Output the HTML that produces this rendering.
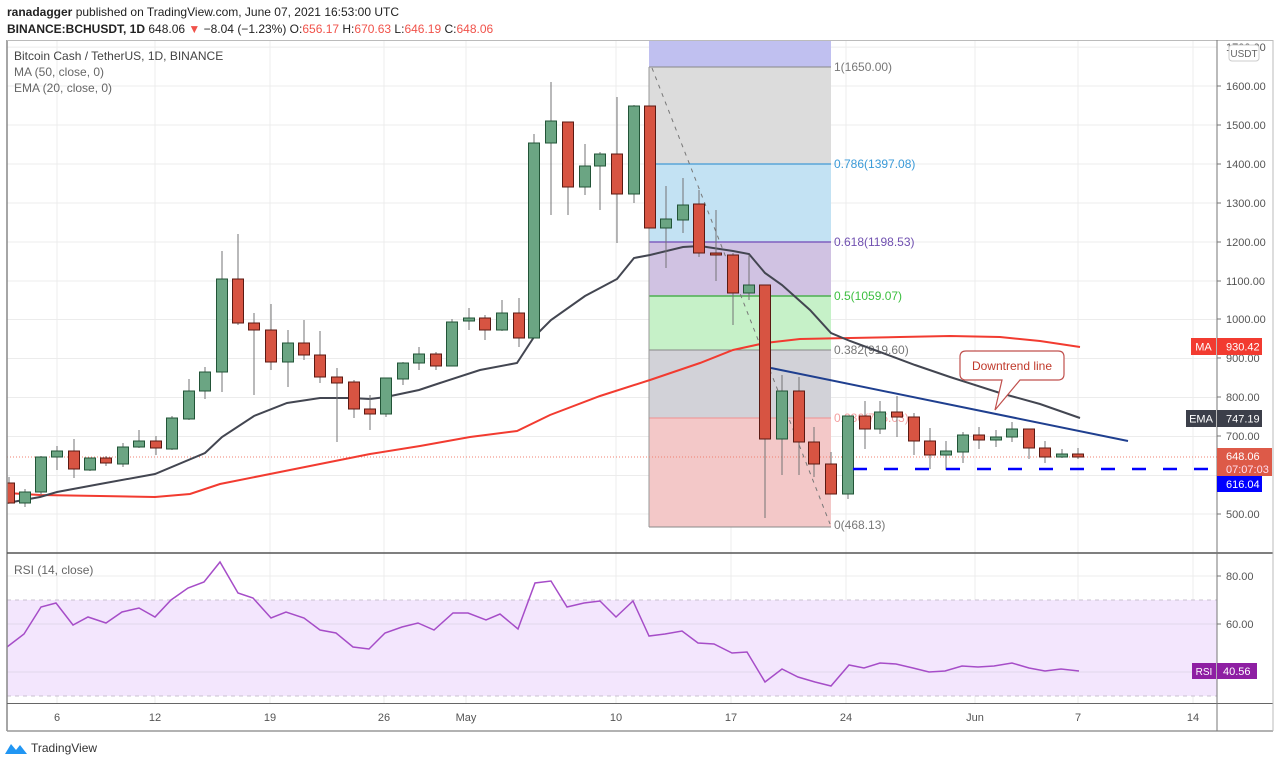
<!DOCTYPE html>
<html><head><meta charset="utf-8"><style>
html,body{margin:0;padding:0;background:#fff;}
body{width:1280px;height:765px;overflow:hidden;font-family:"Liberation Sans",sans-serif;}
</style></head><body>
<svg width="1280" height="765" xmlns="http://www.w3.org/2000/svg" font-family="Liberation Sans, sans-serif">
<rect width="1280" height="765" fill="#fff"/>
<text x="7" y="16" font-size="12" fill="#222"><tspan font-weight="bold">ranadagger</tspan> published on TradingView.com, June 07, 2021 16:53:00 UTC</text>
<text x="7" y="33" font-size="12" fill="#222"><tspan font-weight="bold">BINANCE:BCHUSDT, 1D</tspan> 648.06 <tspan fill="#f0524a">▼</tspan> −8.04 (−1.23%) O:<tspan fill="#f0524a">656.17</tspan> H:<tspan fill="#f0524a">670.63</tspan> L:<tspan fill="#f0524a">646.19</tspan> C:<tspan fill="#f0524a">648.06</tspan></text>
<g stroke="#ececec" stroke-width="1">
<line x1="7" x2="1217" y1="47.1" y2="47.1"/><line x1="7" x2="1217" y1="86" y2="86"/><line x1="7" x2="1217" y1="125" y2="125"/><line x1="7" x2="1217" y1="164" y2="164"/><line x1="7" x2="1217" y1="203" y2="203"/><line x1="7" x2="1217" y1="242" y2="242"/><line x1="7" x2="1217" y1="281" y2="281"/><line x1="7" x2="1217" y1="319.5" y2="319.5"/><line x1="7" x2="1217" y1="358.5" y2="358.5"/><line x1="7" x2="1217" y1="397.5" y2="397.5"/><line x1="7" x2="1217" y1="436.5" y2="436.5"/><line x1="7" x2="1217" y1="475.5" y2="475.5"/><line x1="7" x2="1217" y1="514" y2="514"/>
<line x1="57" x2="57" y1="40" y2="703"/><line x1="155" x2="155" y1="40" y2="703"/><line x1="270" x2="270" y1="40" y2="703"/><line x1="384" x2="384" y1="40" y2="703"/><line x1="466" x2="466" y1="40" y2="703"/><line x1="616" x2="616" y1="40" y2="703"/><line x1="731" x2="731" y1="40" y2="703"/><line x1="846" x2="846" y1="40" y2="703"/><line x1="975" x2="975" y1="40" y2="703"/><line x1="1078" x2="1078" y1="40" y2="703"/><line x1="1193" x2="1193" y1="40" y2="703"/>
<line x1="7" x2="1217" y1="576" y2="576"/><line x1="7" x2="1217" y1="624" y2="624"/><line x1="7" x2="1217" y1="672" y2="672"/>
</g>
<text x="14" y="60" font-size="12" fill="#444">Bitcoin Cash / TetherUS, 1D, BINANCE</text>
<text x="14" y="76" font-size="12" fill="#666">MA (50, close, 0)</text>
<text x="14" y="92" font-size="12" fill="#666">EMA (20, close, 0)</text>
<!-- fib -->
<rect x="649" y="40" width="182" height="27" fill="#c0c0f0"/>
<rect x="649" y="67" width="182" height="97" fill="#dcdcdc"/>
<rect x="649" y="164" width="182" height="78" fill="#c3e2f3"/>
<rect x="649" y="242" width="182" height="54" fill="#d0c2e2"/>
<rect x="649" y="296" width="182" height="54" fill="#c6f1c8"/>
<rect x="649" y="350" width="182" height="68" fill="#d2d2d8"/>
<rect x="649" y="418" width="182" height="109" fill="#f3c8c8"/>
<line x1="649" x2="831" y1="67" y2="67" stroke="#888"/>
<line x1="649" x2="831" y1="164" y2="164" stroke="#5aa5d8" stroke-width="1.5"/>
<line x1="649" x2="831" y1="242" y2="242" stroke="#8060c0" stroke-width="1.5"/>
<line x1="649" x2="831" y1="296" y2="296" stroke="#4caf50" stroke-width="1.5"/>
<line x1="649" x2="831" y1="350" y2="350" stroke="#888"/>
<line x1="649" x2="831" y1="418" y2="418" stroke="#f09090"/>
<line x1="649" x2="831" y1="527" y2="527" stroke="#888"/>
<line x1="649" x2="649" y1="67" y2="527" stroke="#999"/>
<line x1="652" y1="68" x2="830" y2="524" stroke="#777" stroke-dasharray="4,5"/>
<g font-size="12">
<text x="834" y="71" fill="#777">1(1650.00)</text>
<text x="834" y="168" fill="#3a9ad8">0.786(1397.08)</text>
<text x="834" y="246" fill="#7050b0">0.618(1198.53)</text>
<text x="834" y="300" fill="#3cbf40">0.5(1059.07)</text>
<text x="834" y="354" fill="#777">0.382(919.60)</text>
<text x="834" y="422" fill="#f4a0a0">0.236(745.03)</text>
<text x="834" y="529" fill="#777">0(468.13)</text>
</g>
<!-- price dotted line -->
<line x1="7" x2="1217" y1="457" y2="457" stroke="#f08070" stroke-dasharray="1,2"/>
<!-- MA -->
<polyline fill="none" stroke="#f23b30" stroke-width="2" points="7,493 40,495 100,496 155,497 190,494 220,484 270,474 320,464 370,454 420,446 470,437 517,431 550,415 600,396 650,380 700,363 733,350 765,343 800,339 850,338 900,337 950,336 1000,337 1040,341 1080,347"/>
<!-- EMA -->
<polyline fill="none" stroke="#434651" stroke-width="2" points="7,503 40,497 57,492 100,484 155,474 205,453 222,437 254,416 287,403 320,398 350,398 370,399 386,397 419,390 440,383 480,370 517,363 534,337 551,320 585,296 617,279 634,258 650,255 683,247 700,246 733,251 749,254 765,273 782,285 810,310 831,333 850,341 880,352 915,365 950,377 1000,393 1040,404 1080,418"/>
<!-- candles -->
<g id="c" stroke-width="1"></g>
<g stroke="#737375">
<line x1="9" x2="9" y1="477" y2="503"/><line x1="25" x2="25" y1="489" y2="507"/><line x1="41" x2="41" y1="456" y2="495"/><line x1="57" x2="57" y1="446" y2="470"/><line x1="74" x2="74" y1="439" y2="478"/><line x1="90" x2="90" y1="458" y2="471"/><line x1="106" x2="106" y1="456" y2="466"/><line x1="123" x2="123" y1="443" y2="467"/><line x1="139" x2="139" y1="430" y2="448"/><line x1="156" x2="156" y1="436" y2="455"/><line x1="172" x2="172" y1="416" y2="450"/><line x1="189" x2="189" y1="379" y2="420"/><line x1="205" x2="205" y1="367" y2="399"/><line x1="222" x2="222" y1="251" y2="392"/><line x1="238" x2="238" y1="234" y2="325"/><line x1="254" x2="254" y1="313" y2="395"/><line x1="271" x2="271" y1="304" y2="370"/><line x1="288" x2="288" y1="330" y2="387"/><line x1="304" x2="304" y1="320" y2="360"/><line x1="320" x2="320" y1="331" y2="383"/><line x1="337" x2="337" y1="368" y2="442"/><line x1="354" x2="354" y1="380" y2="418"/><line x1="370" x2="370" y1="395" y2="430"/><line x1="386" x2="386" y1="378" y2="417"/><line x1="403" x2="403" y1="362" y2="385"/><line x1="419" x2="419" y1="347" y2="370"/><line x1="436" x2="436" y1="352" y2="370"/><line x1="452" x2="452" y1="319" y2="366"/><line x1="469" x2="469" y1="308" y2="330"/><line x1="485" x2="485" y1="315" y2="340"/><line x1="502" x2="502" y1="300" y2="331"/><line x1="519" x2="519" y1="298" y2="347"/><line x1="534" x2="534" y1="134" y2="338"/><line x1="551" x2="551" y1="82" y2="215"/><line x1="568" x2="568" y1="122" y2="215"/><line x1="585" x2="585" y1="144" y2="195"/><line x1="600" x2="600" y1="152" y2="210"/><line x1="617" x2="617" y1="97" y2="243"/><line x1="634" x2="634" y1="105" y2="203"/><line x1="650" x2="650" y1="106" y2="228"/><line x1="666" x2="666" y1="186" y2="268"/><line x1="683" x2="683" y1="178" y2="233"/><line x1="699" x2="699" y1="190" y2="257"/><line x1="716" x2="716" y1="210" y2="281"/><line x1="733" x2="733" y1="253" y2="325"/><line x1="749" x2="749" y1="255" y2="300"/><line x1="765" x2="765" y1="285" y2="518"/><line x1="782" x2="782" y1="375" y2="475"/><line x1="799" x2="799" y1="377" y2="475"/><line x1="814" x2="814" y1="427" y2="477"/><line x1="831" x2="831" y1="452" y2="494"/><line x1="848" x2="848" y1="416" y2="499"/><line x1="865" x2="865" y1="401" y2="449"/><line x1="880" x2="880" y1="401" y2="434"/><line x1="897" x2="897" y1="396" y2="437"/><line x1="914" x2="914" y1="413" y2="455"/><line x1="930" x2="930" y1="428" y2="469"/><line x1="946" x2="946" y1="441" y2="470"/><line x1="963" x2="963" y1="432" y2="463"/><line x1="979" x2="979" y1="427" y2="449"/><line x1="996" x2="996" y1="430" y2="447"/><line x1="1012" x2="1012" y1="422" y2="442"/><line x1="1029" x2="1029" y1="429" y2="459"/><line x1="1045" x2="1045" y1="441" y2="463"/><line x1="1062" x2="1062" y1="449" y2="458"/><line x1="1078" x2="1078" y1="448" y2="459"/>
</g>
<g fill="#6ba583" stroke="#225437">
<rect x="19.5" y="492" width="11" height="11"/><rect x="35.5" y="457" width="11" height="35"/><rect x="51.5" y="451" width="11" height="6"/><rect x="84.5" y="458" width="11" height="12"/><rect x="117.5" y="447" width="11" height="17"/><rect x="133.5" y="441" width="11" height="6"/><rect x="166.5" y="418" width="11" height="31"/><rect x="183.5" y="391" width="11" height="28"/><rect x="199.5" y="372" width="11" height="19"/><rect x="216.5" y="279" width="11" height="93"/><rect x="282.5" y="343" width="11" height="19"/><rect x="380.5" y="378" width="11" height="36"/><rect x="397.5" y="363" width="11" height="16"/><rect x="413.5" y="354" width="11" height="9"/><rect x="446.5" y="322" width="11" height="44"/><rect x="463.5" y="318" width="11" height="3"/><rect x="496.5" y="313" width="11" height="17"/><rect x="528.5" y="143" width="11" height="195"/><rect x="545.5" y="121" width="11" height="22"/><rect x="579.5" y="166" width="11" height="21"/><rect x="594.5" y="154" width="11" height="12"/><rect x="628.5" y="106" width="11" height="88"/><rect x="660.5" y="219" width="11" height="9"/><rect x="677.5" y="205" width="11" height="15"/><rect x="743.5" y="285" width="11" height="8"/><rect x="776.5" y="391" width="11" height="48"/><rect x="842.5" y="416" width="11" height="78"/><rect x="874.5" y="412" width="11" height="17"/><rect x="940.5" y="451" width="11" height="4"/><rect x="957.5" y="435" width="11" height="17"/><rect x="990.5" y="437" width="11" height="3"/><rect x="1006.5" y="429" width="11" height="8"/><rect x="1056.5" y="454" width="11" height="3"/>
</g>
<g fill="#d75442" stroke="#5b1a13">
<rect x="7" y="483" width="7.5" height="20"/><rect x="68.5" y="451" width="11" height="18"/><rect x="100.5" y="458" width="11" height="5"/><rect x="150.5" y="441" width="11" height="7"/><rect x="232.5" y="279" width="11" height="44"/><rect x="248.5" y="323" width="11" height="7"/><rect x="265.5" y="330" width="11" height="32"/><rect x="298.5" y="343" width="11" height="12"/><rect x="314.5" y="355" width="11" height="22"/><rect x="331.5" y="377" width="11" height="6"/><rect x="348.5" y="382" width="11" height="27"/><rect x="364.5" y="409" width="11" height="5"/><rect x="430.5" y="354" width="11" height="12"/><rect x="479.5" y="318" width="11" height="12"/><rect x="513.5" y="313" width="11" height="25"/><rect x="562.5" y="122" width="11" height="65"/><rect x="611.5" y="154" width="11" height="40"/><rect x="644.5" y="106" width="11" height="122"/><rect x="693.5" y="204" width="11" height="49"/><rect x="710.5" y="253" width="11" height="2"/><rect x="727.5" y="255" width="11" height="38"/><rect x="759.5" y="285" width="11" height="154"/><rect x="793.5" y="391" width="11" height="51"/><rect x="808.5" y="442" width="11" height="22"/><rect x="825.5" y="464" width="11" height="30"/><rect x="859.5" y="416" width="11" height="13"/><rect x="891.5" y="412" width="11" height="5"/><rect x="908.5" y="417" width="11" height="24"/><rect x="924.5" y="441" width="11" height="14"/><rect x="973.5" y="435" width="11" height="5"/><rect x="1023.5" y="429" width="11" height="19"/><rect x="1039.5" y="448" width="11" height="9"/><rect x="1072.5" y="454" width="11" height="3"/>
</g>
<!-- downtrend -->
<line x1="771" y1="368" x2="1128" y2="441" stroke="#1f3f8f" stroke-width="2"/>
<line x1="853" y1="469" x2="1217" y2="469" stroke="#0000ff" stroke-width="2.5" stroke-dasharray="14,17"/>
<!-- callout -->
<path d="M966,351 H1058 Q1064,351 1064,357 V374 Q1064,380 1058,380 H1020 L995,410 L1002,380 H966 Q960,380 960,374 V357 Q960,351 966,351 Z" fill="#fff" stroke="#c0504d" stroke-width="1.2"/>
<text x="1012" y="370" font-size="12" fill="#c0392b" text-anchor="middle">Downtrend line</text>
<!-- RSI -->
<rect x="7" y="600" width="1210" height="96" fill="#f3e6fd"/>
<line x1="7" x2="1217" y1="600" y2="600" stroke="#c8c0d0" stroke-dasharray="4,4"/>
<line x1="7" x2="1217" y1="696" y2="696" stroke="#c8c0d0" stroke-dasharray="4,4"/>
<line x1="7" x2="1217" y1="624" y2="624" stroke="#e2d8ea"/>
<line x1="7" x2="1217" y1="672" y2="672" stroke="#e2d8ea"/>
<polyline fill="none" stroke="#a64dc8" stroke-width="1.5" points="7,647 24,634 41,607 56,603 73,625 88,617 106,623 122,612 139,608 155,617 171,600 188,588 204,582 220,562 238,593 253,598 271,618 286,612 304,618 320,630 336,633 353,647 369,649 385,633 402,627 418,623 434,630 453,613 468,613 486,620 500,614 518,629 535,583 551,581 567,607 584,603 600,601 616,617 633,601 649,636 665,634 682,631 698,643 714,644 732,653 747,652 765,682 782,669 798,677 815,682 831,686 849,665 864,668 880,663 896,664 913,668 929,672 945,671 962,666 978,667 994,666 1012,663 1029,668 1045,671 1061,669 1079,671"/>
<text x="14" y="574" font-size="12" fill="#666">RSI (14, close)</text>
<!-- frame -->
<line x1="7" x2="7" y1="40" y2="731" stroke="#888" stroke-width="1.5"/>
<line x1="7" x2="1273" y1="40.5" y2="40.5" stroke="#bbb"/>
<line x1="7" x2="1273" y1="553" y2="553" stroke="#555" stroke-width="1.5"/>
<line x1="7" x2="1273" y1="703.5" y2="703.5" stroke="#666"/>
<line x1="7" x2="1273" y1="731" y2="731" stroke="#999" stroke-width="1.5"/>
<line x1="1217" x2="1217" y1="40" y2="731" stroke="#777"/>
<line x1="1273" x2="1273" y1="40" y2="731" stroke="#bbb"/>
<!-- right axis -->
<g font-size="11" fill="#555">
<text x="1226" y="51">1700.00</text>
<text x="1226" y="90">1600.00</text><text x="1226" y="129">1500.00</text><text x="1226" y="168">1400.00</text><text x="1226" y="207">1300.00</text><text x="1226" y="246">1200.00</text><text x="1226" y="285">1100.00</text><text x="1226" y="323">1000.00</text><text x="1226" y="362">900.00</text><text x="1226" y="401">800.00</text><text x="1226" y="440">700.00</text><text x="1226" y="518">500.00</text>
<text x="1226" y="580">80.00</text><text x="1226" y="628">60.00</text>
</g>
<g stroke="#777"><line x1="1217" x2="1221" y1="86" y2="86"/><line x1="1217" x2="1221" y1="125" y2="125"/><line x1="1217" x2="1221" y1="164" y2="164"/><line x1="1217" x2="1221" y1="203" y2="203"/><line x1="1217" x2="1221" y1="242" y2="242"/><line x1="1217" x2="1221" y1="281" y2="281"/><line x1="1217" x2="1221" y1="319" y2="319"/><line x1="1217" x2="1221" y1="358" y2="358"/><line x1="1217" x2="1221" y1="397" y2="397"/><line x1="1217" x2="1221" y1="436" y2="436"/><line x1="1217" x2="1221" y1="514" y2="514"/><line x1="1217" x2="1221" y1="576" y2="576"/><line x1="1217" x2="1221" y1="624" y2="624"/></g>
<rect x="1229" y="45" width="30" height="16" rx="3" fill="#fff" stroke="#ccc"/>
<text x="1244" y="57" font-size="10" fill="#666" text-anchor="middle">USDT</text>
<rect x="1191" y="338" width="25" height="17" fill="#f23b30"/><text x="1203.5" y="350.5" font-size="11" fill="#fff" text-anchor="middle">MA</text>
<rect x="1217" y="338" width="45" height="17" fill="#f23b30"/><text x="1226" y="350.5" font-size="11" fill="#fff">930.42</text>
<rect x="1186" y="410" width="30" height="17" fill="#3c3f4a"/><text x="1201" y="422.5" font-size="11" fill="#fff" text-anchor="middle">EMA</text>
<rect x="1217" y="410" width="45" height="17" fill="#3c3f4a"/><text x="1226" y="422.5" font-size="11" fill="#fff">747.19</text>
<rect x="1217" y="448" width="55" height="28" fill="#dd5a48"/><text x="1226" y="460" font-size="11" fill="#fff">648.06</text><text x="1226" y="473" font-size="11" fill="#fde">07:07:03</text>
<rect x="1217" y="476" width="45" height="16" fill="#0000ff"/><text x="1226" y="488" font-size="11" fill="#fff">616.04</text>
<rect x="1192" y="663" width="24" height="16" fill="#8e1fa3"/><text x="1204" y="675" font-size="10" fill="#fff" text-anchor="middle">RSI</text>
<rect x="1217" y="663" width="40" height="16" fill="#8e1fa3"/><text x="1223" y="675" font-size="11" fill="#fff">40.56</text>
<!-- time axis -->
<g font-size="11" fill="#555" text-anchor="middle">
<text x="57" y="721">6</text><text x="155" y="721">12</text><text x="270" y="721">19</text><text x="384" y="721">26</text><text x="466" y="721">May</text><text x="616" y="721">10</text><text x="731" y="721">17</text><text x="846" y="721">24</text><text x="975" y="721">Jun</text><text x="1078" y="721">7</text><text x="1193" y="721">14</text>
</g>
<!-- logo -->
<path d="M5,754 L11,744 L16,750 L20,745 L27,754 Z" fill="#2196f3"/>
<text x="31" y="752" font-size="12" fill="#333">TradingView</text>
</svg>
</body></html>
